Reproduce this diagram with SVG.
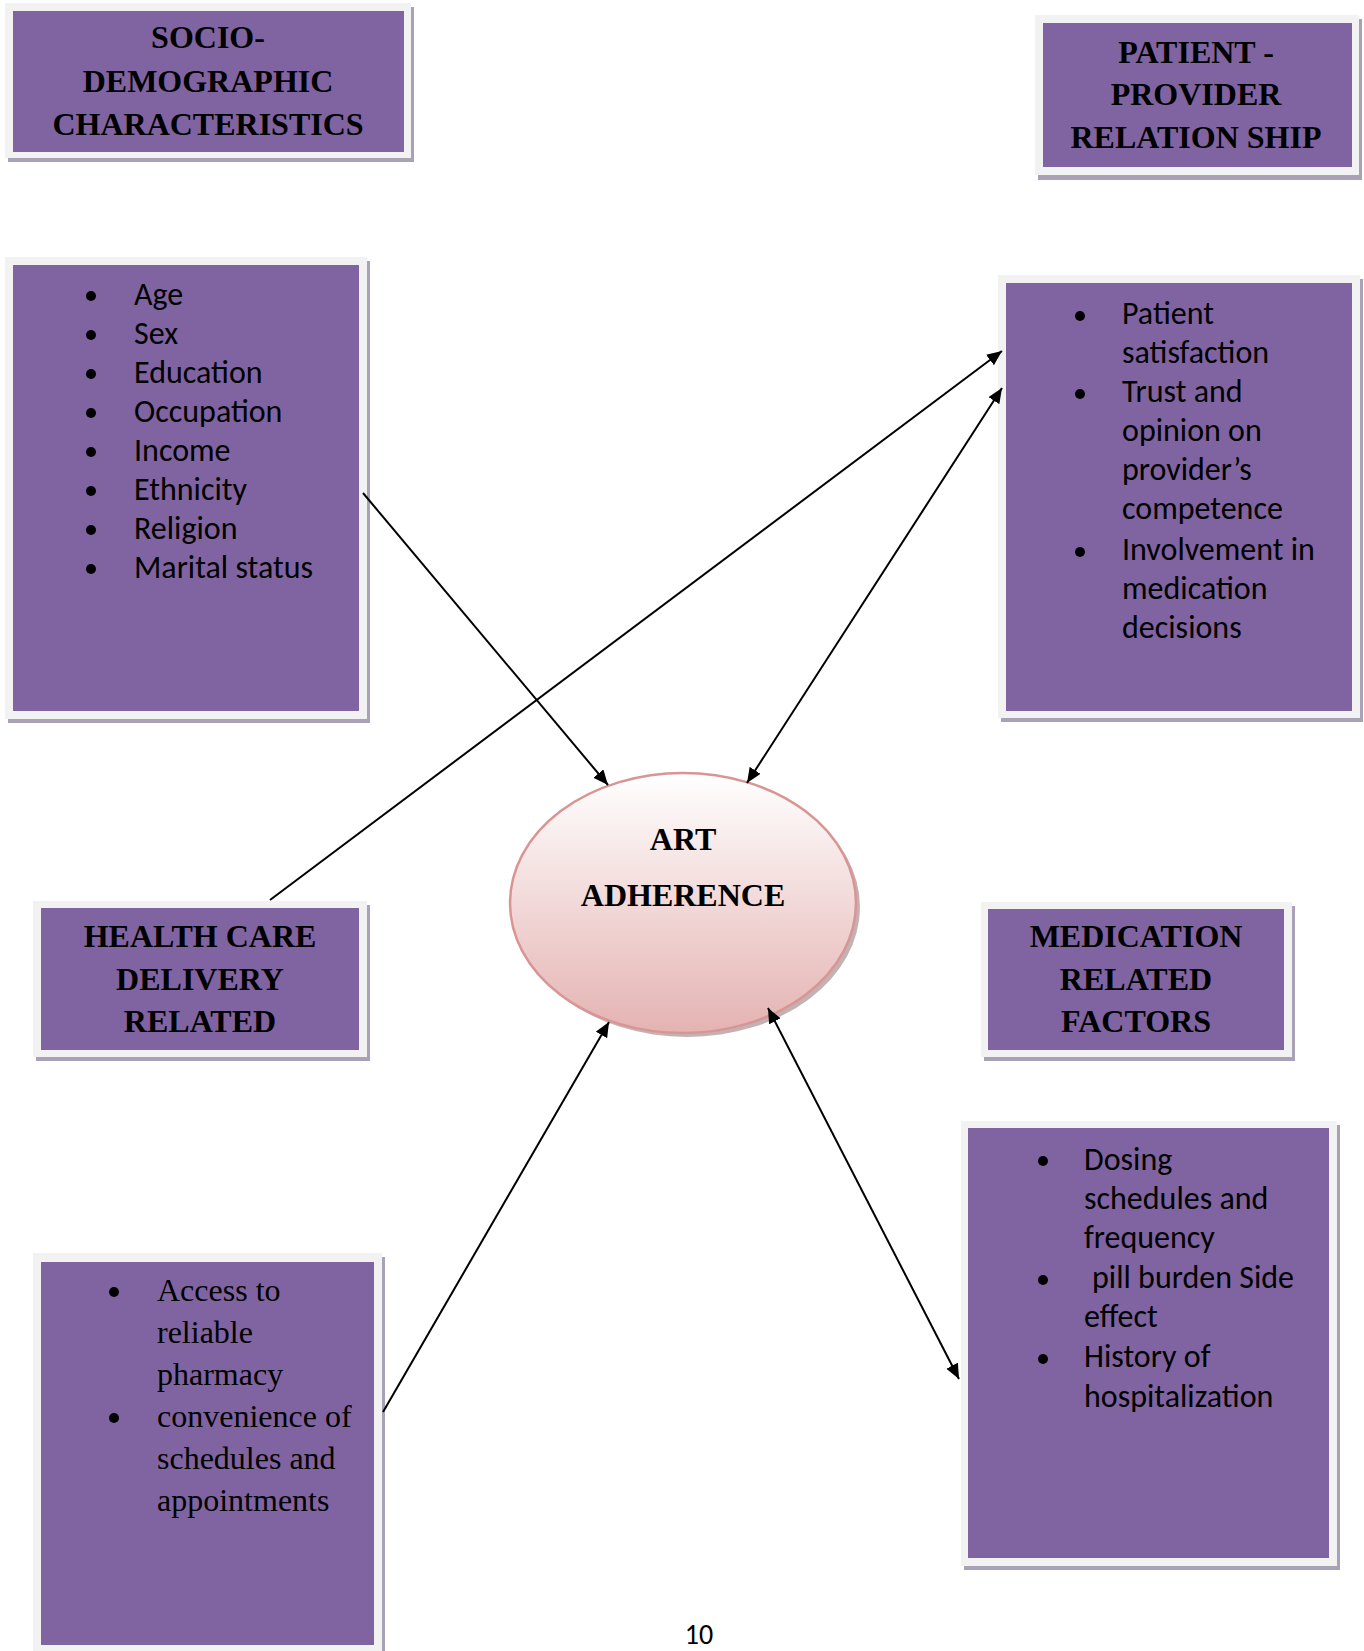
<svg xmlns="http://www.w3.org/2000/svg" width="1364" height="1651" viewBox="0 0 1364 1651">
<style>
.frame{fill:#f2f2f2}
.shadow{fill:#a9a2b6}
.box{fill:#8064a2}
.hdr{font-family:"Liberation Serif","Times New Roman",serif;font-weight:bold;font-size:32px;fill:#000;text-anchor:middle}
.lst{font-family:Carlito,Lato,"Liberation Sans",sans-serif;font-size:32px;fill:#000}
.ser{font-family:"Liberation Serif","Times New Roman",serif;font-size:32px;fill:#000}
.bul{fill:#000}
.conn{stroke:#000;stroke-width:2;fill:none}
</style>
<defs>
<marker id="ah" markerUnits="userSpaceOnUse" markerWidth="17" markerHeight="14" refX="15" refY="6.5" orient="auto-start-reverse">
<path d="M0,0 L15,6.5 L0,13 z" fill="#000"/>
</marker>
<linearGradient id="eg" x1="0" y1="0" x2="0" y2="1">
<stop offset="0" stop-color="#ffffff"/>
<stop offset="1" stop-color="#e4b3b2"/>
</linearGradient>
</defs>
<rect width="1364" height="1651" fill="#fff"/>

<g id="socio-header">
<rect class="shadow" x="8" y="7" width="406" height="155"/>
<rect class="frame" x="5" y="3" width="406" height="155"/>
<rect class="box" x="13" y="11" width="391" height="141"/>
<text class="hdr" x="208" y="48">SOCIO-</text>
<text class="hdr" x="208" y="92">DEMOGRAPHIC</text>
<text class="hdr" x="208" y="135">CHARACTERISTICS</text>
</g>

<g id="patient-header">
<rect class="shadow" x="1038" y="19" width="324" height="161"/>
<rect class="frame" x="1035" y="15" width="324" height="160"/>
<rect class="box" x="1043" y="23" width="309" height="144"/>
<text class="hdr" x="1196" y="63">PATIENT -</text>
<text class="hdr" x="1196" y="105">PROVIDER</text>
<text class="hdr" x="1196" y="148">RELATION SHIP</text>
</g>

<g id="socio-list">
<rect class="shadow" x="8" y="261" width="362" height="462"/>
<rect class="frame" x="5" y="257" width="362" height="462"/>
<rect class="box" x="13" y="265" width="346" height="446"/>
<circle class="bul" cx="91" cy="296" r="5"/>
<circle class="bul" cx="91" cy="335" r="5"/>
<circle class="bul" cx="91" cy="374" r="5"/>
<circle class="bul" cx="91" cy="413" r="5"/>
<circle class="bul" cx="91" cy="452" r="5"/>
<circle class="bul" cx="91" cy="491" r="5"/>
<circle class="bul" cx="91" cy="530" r="5"/>
<circle class="bul" cx="91" cy="569" r="5"/>
<text class="lst" x="134" y="305">Age</text>
<text class="lst" x="134" y="344">Sex</text>
<text class="lst" x="134" y="383">Education</text>
<text class="lst" x="134" y="422">Occupation</text>
<text class="lst" x="134" y="461">Income</text>
<text class="lst" x="134" y="500">Ethnicity</text>
<text class="lst" x="134" y="539">Religion</text>
<text class="lst" x="134" y="578">Marital status</text>
</g>

<g id="patient-list">
<rect class="shadow" x="1001" y="279" width="362" height="443"/>
<rect class="frame" x="998" y="275" width="362" height="443"/>
<rect class="box" x="1006" y="283" width="346" height="428"/>
<circle class="bul" cx="1080" cy="316" r="5"/>
<circle class="bul" cx="1080" cy="394" r="5"/>
<circle class="bul" cx="1080" cy="552" r="5"/>
<text class="lst" x="1122" y="324">Patient</text>
<text class="lst" x="1122" y="363">satisfaction</text>
<text class="lst" x="1122" y="402">Trust and</text>
<text class="lst" x="1122" y="441">opinion on</text>
<text class="lst" x="1122" y="480">provider’s</text>
<text class="lst" x="1122" y="519">competence</text>
<text class="lst" x="1122" y="560">Involvement in</text>
<text class="lst" x="1122" y="599">medication</text>
<text class="lst" x="1122" y="638">decisions</text>
</g>

<g id="ellipse-art">
<ellipse cx="687" cy="907" rx="173" ry="130" fill="#a89292" opacity="0.7"/>
<ellipse cx="683" cy="903" rx="173" ry="130" fill="url(#eg)" stroke="#d99594" stroke-width="2.5"/>
<text class="hdr" x="683" y="850">ART</text>
<text class="hdr" x="683" y="906">ADHERENCE</text>
</g>

<g id="hcd-header">
<rect class="shadow" x="36" y="905" width="334" height="156"/>
<rect class="frame" x="33" y="901" width="334" height="156"/>
<rect class="box" x="41" y="908" width="318" height="142"/>
<text class="hdr" x="200" y="947">HEALTH CARE</text>
<text class="hdr" x="200" y="990">DELIVERY</text>
<text class="hdr" x="200" y="1032">RELATED</text>
</g>

<g id="medication-header">
<rect class="shadow" x="984" y="906" width="311" height="155"/>
<rect class="frame" x="981" y="902" width="311" height="155"/>
<rect class="box" x="988" y="909" width="296" height="141"/>
<text class="hdr" x="1136" y="947">MEDICATION</text>
<text class="hdr" x="1136" y="990">RELATED</text>
<text class="hdr" x="1136" y="1032">FACTORS</text>
</g>

<g id="medication-list">
<rect class="shadow" x="964" y="1125" width="376" height="445"/>
<rect class="frame" x="961" y="1121" width="376" height="445"/>
<rect class="box" x="968" y="1128" width="361" height="430"/>
<circle class="bul" cx="1043" cy="1161" r="5"/>
<circle class="bul" cx="1043" cy="1280" r="5"/>
<circle class="bul" cx="1043" cy="1359" r="5"/>
<text class="lst" x="1084" y="1170">Dosing</text>
<text class="lst" x="1084" y="1209">schedules and</text>
<text class="lst" x="1084" y="1248">frequency</text>
<text class="lst" x="1092" y="1288">pill burden Side</text>
<text class="lst" x="1084" y="1327">effect</text>
<text class="lst" x="1084" y="1367">History of</text>
<text class="lst" x="1084" y="1407">hospitalization</text>
</g>

<g id="hc-list">
<rect class="shadow" x="36" y="1257" width="349" height="400"/>
<rect class="frame" x="33" y="1253" width="349" height="400"/>
<rect class="box" x="41" y="1262" width="333" height="383"/>
<circle class="bul" cx="114" cy="1292" r="5"/>
<circle class="bul" cx="114" cy="1418" r="5"/>
<text class="ser" x="157" y="1301">Access to</text>
<text class="ser" x="157" y="1343">reliable</text>
<text class="ser" x="157" y="1385">pharmacy</text>
<text class="ser" x="157" y="1427">convenience of</text>
<text class="ser" x="157" y="1469">schedules and</text>
<text class="ser" x="157" y="1511">appointments</text>
</g>

<g id="connectors">
<line class="conn" x1="363" y1="493" x2="608" y2="785" marker-end="url(#ah)"/>
<line class="conn" x1="270" y1="900" x2="1002" y2="351" marker-end="url(#ah)"/>
<line class="conn" x1="1002" y1="388" x2="747" y2="783" marker-start="url(#ah)" marker-end="url(#ah)"/>
<line class="conn" x1="383" y1="1412" x2="609" y2="1022" marker-end="url(#ah)"/>
<line class="conn" x1="768" y1="1008" x2="959" y2="1379" marker-start="url(#ah)" marker-end="url(#ah)"/>
</g>

<text class="lst" x="699" y="1644" text-anchor="middle" style="font-size:28px">10</text>
</svg>
